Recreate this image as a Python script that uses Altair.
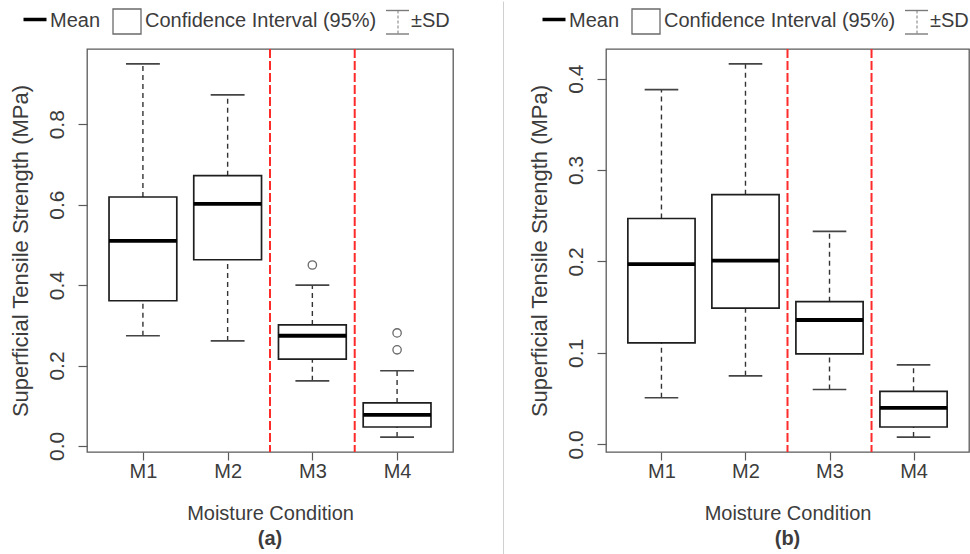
import altair as alt
import pandas as pd

# ---- data ---------------------------------------------------------------
conditions = ["M1", "M2", "M3", "M4"]
positions = [1, 2, 3, 4]
separators = [2.5, 3.5]

# Panel (a)
a_sd_high = [0.950, 0.873, 0.400, 0.187]
a_ci_high = [0.619, 0.672, 0.301, 0.107]
a_mean = [0.510, 0.602, 0.274, 0.077]
a_ci_low = [0.361, 0.463, 0.216, 0.047]
a_sd_low = [0.274, 0.261, 0.162, 0.022]
a_out_cond = ["M3", "M4", "M4"]
a_out_val = [0.450, 0.281, 0.239]
a_ticks = [0.0, 0.2, 0.4, 0.6, 0.8]

# Panel (b)
b_sd_high = [0.388, 0.416, 0.233, 0.087]
b_ci_high = [0.247, 0.273, 0.156, 0.058]
b_mean = [0.197, 0.201, 0.136, 0.040]
b_ci_low = [0.111, 0.149, 0.099, 0.019]
b_sd_low = [0.051, 0.075, 0.060, 0.008]
b_out_cond = []
b_out_val = []
b_ticks = [0.0, 0.1, 0.2, 0.3, 0.4]

legend_labels = ["Mean", "Confidence Interval (95%)", "\u00b1SD"]
x_title = "Moisture Condition"
y_title = "Superficial Tensile Strength (MPa)"
panel_tags = ["(a)", "(b)"]

# ---- styling ------------------------------------------------------------
FONT = "Liberation Sans"
TEXT = "#3c3c3c"
FRAME = "#5a5a5a"
BOX = "#1e1e1e"
PLOT_H = 403
BOX_HALF = 0.4
CAP_HALF = 0.2
ONE = alt.Data(values=[{}])


def panel(sd_high, ci_high, mean, ci_low, sd_low, out_cond, out_val,
          ticks, tag, width, left_edge=False, divider=False):
    df = pd.DataFrame({
        "cond": conditions, "pos": positions,
        "sd_high": sd_high, "ci_high": ci_high, "mean": mean,
        "ci_low": ci_low, "sd_low": sd_low,
    })
    pos_of = dict(zip(conditions, positions))
    out_df = pd.DataFrame({"pos": [pos_of[c] for c in out_cond], "value": out_val})
    sep_df = pd.DataFrame({"x": separators})

    # R-style axis range: data range extended by 4% on each side
    lo = min(sd_low + out_val)
    hi = max(sd_high + out_val)
    pad = 0.04 * (hi - lo)
    ys = alt.Scale(domain=[lo - pad, hi + pad], nice=False, zero=False)
    xs = alt.Scale(domain=[0.34, 4.66], nice=False, zero=False)

    label_expr = "[" + ",".join(f"'{c}'" for c in conditions) + "][datum.value - 1]"
    xaxis = alt.Axis(values=positions, labelExpr=label_expr, title=x_title,
                     grid=False, domain=False, tickSize=8, labelPadding=1,
                     labelFontSize=20, titleFontSize=20, titleFontWeight="normal",
                     titleX=width / 2, titleY=51, titleBaseline="top",
                     titleAlign="center")
    yaxis = alt.Axis(values=ticks, format=".1f", title=y_title,
                     grid=False, domain=False, tickSize=9, labelPadding=11,
                     labelAngle=270, labelAlign="center", labelBaseline="bottom",
                     labelFontSize=21, titleFontSize=22, titleFontWeight="normal",
                     titleAngle=270, titleX=-55, titleY=PLOT_H / 2,
                     titleBaseline="bottom", titleAlign="center")

    def X(f):
        return alt.X(f, type="quantitative", scale=xs, axis=xaxis)

    def Y(f):
        return alt.Y(f, type="quantitative", scale=ys, axis=yaxis)

    base = alt.Chart(df).transform_calculate(
        left=f"datum.pos - {BOX_HALF}", right=f"datum.pos + {BOX_HALF}",
        cap_l=f"datum.pos - {CAP_HALF}", cap_r=f"datum.pos + {CAP_HALF}",
    )

    seps = alt.Chart(sep_df).mark_rule(
        color="#ff2a2a", strokeWidth=2, strokeDash=[9, 3]
    ).encode(x=X("x"))

    whisk_up = base.mark_rule(color="#333333", strokeWidth=1.4, strokeDash=[5, 4]).encode(
        x=X("pos"), y=Y("ci_high"), y2="sd_high")
    whisk_dn = base.mark_rule(color="#333333", strokeWidth=1.4, strokeDash=[5, 4]).encode(
        x=X("pos"), y=Y("sd_low"), y2="ci_low")
    cap_up = base.mark_rule(color="#444444", strokeWidth=1.7).encode(
        x=X("cap_l"), x2="cap_r", y=Y("sd_high"))
    cap_dn = base.mark_rule(color="#444444", strokeWidth=1.7).encode(
        x=X("cap_l"), x2="cap_r", y=Y("sd_low"))
    boxes = base.mark_rect(fill="white", stroke=BOX, strokeWidth=1.7).encode(
        x=X("left"), x2="right", y=Y("ci_low"), y2="ci_high")
    medians = base.mark_rule(color="black", strokeWidth=3.8).encode(
        x=X("left"), x2="right", y=Y("mean"))

    layers = [seps, whisk_up, whisk_dn, cap_up, cap_dn, boxes, medians]
    if len(out_df):
        layers.append(alt.Chart(out_df).mark_point(
            shape="circle", filled=False, color="#2a2a2a", size=70, strokeWidth=1.3
        ).encode(x=X("pos"), y=Y("value")))

    # legend keys above the plot
    ty = -28
    layers += [
        alt.Chart(ONE).mark_rule(color="black", strokeWidth=3.5).encode(
            x=alt.value(-63.5), x2=alt.value(-40.5), y=alt.value(-29.5)),
        alt.Chart(ONE).mark_text(align="left", baseline="middle", font=FONT,
                                 fontSize=20, color=TEXT).encode(
            x=alt.value(-37), y=alt.value(ty), text=alt.value(legend_labels[0])),
        alt.Chart(ONE).mark_rect(fill="white", stroke="#6a6a6a", strokeWidth=1.3).encode(
            x=alt.value(26), x2=alt.value(54), y=alt.value(-40), y2=alt.value(-15)),
        alt.Chart(ONE).mark_text(align="left", baseline="middle", font=FONT,
                                 fontSize=20, color=TEXT).encode(
            x=alt.value(58), y=alt.value(ty), text=alt.value(legend_labels[1])),
        alt.Chart(ONE).mark_rule(color="#7a7a7a", strokeWidth=1.4).encode(
            x=alt.value(299), x2=alt.value(322), y=alt.value(-38.5)),
        alt.Chart(ONE).mark_rule(color="#7a7a7a", strokeWidth=1.4).encode(
            x=alt.value(299), x2=alt.value(322), y=alt.value(-15)),
        alt.Chart(ONE).mark_rule(color="#7a7a7a", strokeWidth=1, strokeDash=[3, 2]).encode(
            x=alt.value(311), y=alt.value(-38.5), y2=alt.value(-15)),
        alt.Chart(ONE).mark_text(align="left", baseline="middle", font=FONT,
                                 fontSize=20, color=TEXT).encode(
            x=alt.value(324), y=alt.value(ty), text=alt.value(legend_labels[2])),
    ]

    # panel tag under the axis title
    layers.append(alt.Chart(ONE).mark_text(
        align="center", baseline="top", font=FONT, fontSize=20,
        fontWeight="bold", color=TEXT).encode(
        x=alt.value(width / 2), y=alt.value(480), text=alt.value(tag)))

    if left_edge:
        layers.append(alt.Chart(ONE).mark_rule(color="white", strokeWidth=1).encode(
            x=alt.value(-85.5), y=alt.value(0), y2=alt.value(1)))
    if divider:
        layers.append(alt.Chart(ONE).mark_rule(color="#d0d0d0", strokeWidth=1).encode(
            x=alt.value(-102.5), y=alt.value(-47.5), y2=alt.value(505.5)))

    return alt.layer(*layers).properties(width=width, height=PLOT_H)


pa = panel(a_sd_high, a_ci_high, a_mean, a_ci_low, a_sd_low, a_out_cond, a_out_val,
           a_ticks, panel_tags[0], 366, left_edge=True)
pb = panel(b_sd_high, b_ci_high, b_mean, b_ci_low, b_sd_low, b_out_cond, b_out_val,
           b_ticks, panel_tags[1], 363, divider=True)

chart = alt.hconcat(pa, pb, spacing=153, bounds="flush").properties(
    padding=0, background="white"
).configure_view(
    stroke=FRAME, strokeWidth=1.3
).configure_axis(
    labelFont=FONT, titleFont=FONT, labelColor=TEXT, titleColor=TEXT,
    tickColor=FRAME, tickWidth=1.2
)

chart.save("out.html", embed_options={"renderer": "svg", "actions": False})
